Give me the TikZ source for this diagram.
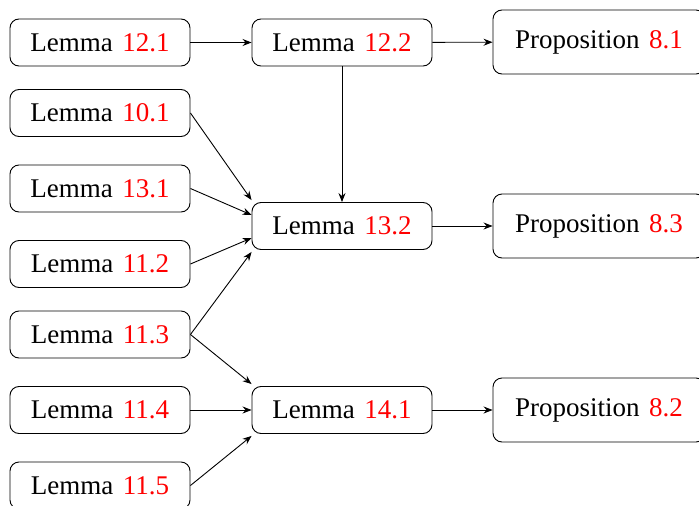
\documentclass[tikz,border=0pt]{standalone}
\usepackage{fontspec}
\setmainfont{Liberation Serif}
\usetikzlibrary{arrows.meta}
\tikzset{
  lem/.style={draw, rounded corners=9pt, line width=0.9pt, minimum width=180pt, minimum height=47pt, inner sep=0pt, font=\fontsize{27}{31}\selectfont},
  prop/.style={draw, rounded corners=9pt, line width=0.9pt, minimum width=212pt, minimum height=64pt, inner sep=0pt, font=\fontsize{27}{31}\selectfont},
  arr/.style={line width=0.9pt, -{Stealth[length=9pt,width=7pt,inset=3pt]}}
}
\newcommand{\rf}[1]{\hspace{9.5pt}\textcolor{red}{#1}}
\begin{document}
\begin{tikzpicture}[x=1pt,y=-1pt]
\useasboundingbox (0,0) rectangle (699,506);
\node[lem] (a121) at (100,42.5) {Lemma\rf{12.1}};
\node[lem] (a101) at (100,113) {Lemma\rf{10.1}};
\node[lem] (a131) at (100,188.5) {Lemma\rf{13.1}};
\node[lem] (a112) at (100,264) {Lemma\rf{11.2}};
\node[lem] (a113) at (100,334.5) {Lemma\rf{11.3}};
\node[lem] (a114) at (100,410) {Lemma\rf{11.4}};
\node[lem] (a115) at (100,485.5) {Lemma\rf{11.5}};
\node[lem] (b122) at (342,42.5) {Lemma\rf{12.2}};
\node[lem] (b132) at (342,226) {Lemma\rf{13.2}};
\node[lem] (b141) at (342,410) {Lemma\rf{14.1}};
\node[prop] (p81) at (599,42) {Proposition\rf{8.1}};
\node[prop] (p83) at (599,226) {Proposition\rf{8.3}};
\node[prop] (p82) at (599,410) {Proposition\rf{8.2}};
\draw[arr] (a121) -- (b122);
\draw[arr] (b122) -- (p81);
\draw[arr] (b122) -- (b132);
\draw[arr] (b132) -- (p83);
\draw[arr] (b141) -- (p82);
\draw[arr] (a101.east) -- ([yshift=2pt]b132.north west);
\draw[arr] (a131.east) -- ([yshift=11pt]b132.west);
\draw[arr] (a112.east) -- ([yshift=-12pt]b132.west);
\draw[arr] (a113.east) -- ([yshift=-2pt]b132.south west);
\draw[arr] (a113.east) -- ([yshift=2pt]b141.north west);
\draw[arr] (a114) -- (b141);
\draw[arr] (a115.east) -- ([yshift=-2pt]b141.south west);
\end{tikzpicture}
\end{document}
